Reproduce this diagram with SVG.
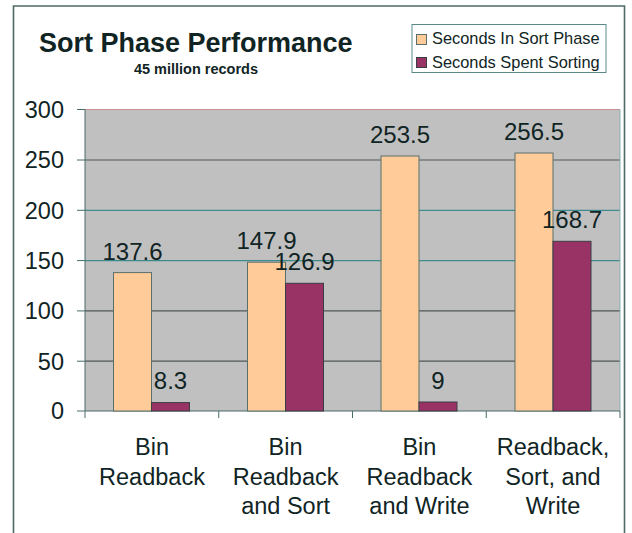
<svg xmlns="http://www.w3.org/2000/svg" width="632" height="533" viewBox="0 0 632 533">
<style>
text{font-family:"Liberation Sans",Arial,sans-serif;fill:#102424}
.val{font-size:24px;text-anchor:middle}
.ax{font-size:23.5px;text-anchor:end}
.cat{font-size:23.5px;text-anchor:middle}
.leg{font-size:16.4px}
.o{fill:#FFCC99;stroke:#5a6e6a;stroke-width:1}
.p{fill:#993366;stroke:#3a3e44;stroke-width:1}
.g1{stroke:#50585a;stroke-width:1.2}
.g2{stroke:#3e8a8c;stroke-width:1.2}
.tk{stroke:#4a6a6a;stroke-width:1}
</style>
<rect width="632" height="533" fill="#fff"/>
<path d="M13.5,540 V6 H624.5 V540" fill="none" stroke="#4f6a66" stroke-width="1.6"/>
<g id="title">
<text x="39" y="52" style="font-size:27px;font-weight:bold">Sort Phase Performance</text>
<text x="196" y="74" style="font-size:14.5px;font-weight:bold;text-anchor:middle">45 million records</text>
</g>
<g id="legend">
<rect x="412" y="24.5" width="194" height="48" fill="#fff" stroke="#5a8a88" stroke-width="1"/>
<rect x="416.5" y="34.5" width="10" height="10" class="o"/>
<rect x="416.5" y="57.5" width="10" height="10" class="p"/>
<text x="432" y="43.5" class="leg">Seconds In Sort Phase</text>
<text x="432" y="67.5" class="leg">Seconds Spent Sorting</text>
</g>
<g id="plot">
<rect x="85" y="109.5" width="535" height="301.5" fill="#C0C0C0"/>
<line x1="85" y1="109.5" x2="620" y2="109.5" stroke="#c89090" stroke-width="1"/>
<line x1="85" y1="160" x2="620" y2="160" class="g1"/>
<line x1="85" y1="210.3" x2="620" y2="210.3" class="g2"/>
<line x1="85" y1="260.6" x2="620" y2="260.6" class="g2"/>
<line x1="85" y1="310.9" x2="620" y2="310.9" class="g1"/>
<line x1="85" y1="361.2" x2="620" y2="361.2" class="g1"/>
<line x1="620" y1="109.5" x2="620" y2="411" stroke="#8ab0b0" stroke-width="1"/>
</g>
<g id="axes">
<line x1="85" y1="109.5" x2="85" y2="411" class="tk"/>
<line x1="85" y1="411" x2="620" y2="411" class="tk"/>
<path d="M77,109.5H85M77,160H85M77,210.3H85M77,260.6H85M77,310.9H85M77,361.2H85M77,411H85" class="tk"/>
<path d="M85,411V418M218.75,411V418M352.5,411V418M486.25,411V418M620,411V418" class="tk"/>
<text x="64" y="118" class="ax">300</text>
<text x="64" y="168.3" class="ax">250</text>
<text x="64" y="218.6" class="ax">200</text>
<text x="64" y="268.9" class="ax">150</text>
<text x="64" y="319.2" class="ax">100</text>
<text x="64" y="369.5" class="ax">50</text>
<text x="64" y="419.3" class="ax">0</text>
</g>
<g id="bars">
<rect x="113.5" y="272.6" width="38" height="138.4" class="o"/>
<rect x="151.5" y="402.6" width="38" height="8.4" class="p"/>
<rect x="247.5" y="262.2" width="38" height="148.8" class="o"/>
<rect x="285.5" y="283.3" width="38" height="127.7" class="p"/>
<rect x="381" y="156" width="38" height="255" class="o"/>
<rect x="419" y="402" width="38" height="9" class="p"/>
<rect x="515" y="153" width="38" height="258" class="o"/>
<rect x="553" y="241.3" width="38" height="169.7" class="p"/>
</g>
<g id="values">
<text x="132.5" y="259.5" class="val">137.6</text>
<text x="170.5" y="389.3" class="val">8.3</text>
<text x="266.5" y="248.5" class="val">147.9</text>
<text x="304.5" y="270" class="val">126.9</text>
<text x="400" y="143" class="val">253.5</text>
<text x="438" y="388.5" class="val">9</text>
<text x="534" y="140" class="val">256.5</text>
<text x="572" y="228" class="val">168.7</text>
</g>
<g id="categories">
<text x="152" y="455" class="cat">Bin</text>
<text x="152" y="484.5" class="cat">Readback</text>
<text x="285.6" y="455" class="cat">Bin</text>
<text x="285.6" y="484.5" class="cat">Readback</text>
<text x="285.6" y="514" class="cat">and Sort</text>
<text x="419.4" y="455" class="cat">Bin</text>
<text x="419.4" y="484.5" class="cat">Readback</text>
<text x="419.4" y="514" class="cat">and Write</text>
<text x="553" y="455" class="cat">Readback,</text>
<text x="553" y="484.5" class="cat">Sort, and</text>
<text x="553" y="514" class="cat">Write</text>
</g>
</svg>
